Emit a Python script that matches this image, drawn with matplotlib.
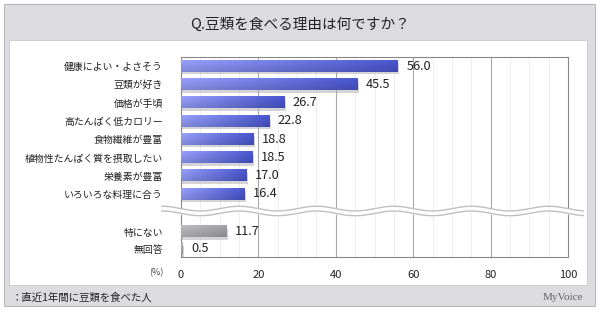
import numpy as np
import matplotlib
matplotlib.use("Agg")
import matplotlib.pyplot as plt
from matplotlib.patches import Rectangle

plt.rcParams['font.family'] = ['Noto Sans CJK JP', 'DejaVu Sans']

title = "Q.豆類を食べる理由は何ですか？"
categories = ["健康によい・よさそう", "豆類が好き", "価格が手頃", "高たんぱく低カロリー",
              "食物繊維が豊富", "植物性たんぱく質を摂取したい", "栄養素が豊富", "いろいろな料理に合う"]
values = [56.0, 45.5, 26.7, 22.8, 18.8, 18.5, 17.0, 16.4]
other_categories = ["特にない", "無回答"]
other_values = [11.7, 0.5]
xticks = [0, 20, 40, 60, 80, 100]
footnote = "：直近1年間に豆類を食べた人"
brand = "MyVoice"

W, H = 600, 312
fig = plt.figure(figsize=(W / 100, H / 100), dpi=100)
fig.patch.set_facecolor('white')

def fx(px):
    return px / W

def fy(py):
    return 1 - py / H

# outer gray panel
fig.patches.append(Rectangle((fx(4), fy(306)), fx(591), (306 - 4) / H, transform=fig.transFigure,
                             facecolor='#dcdbe0', edgecolor='#b8b8b8', lw=0.8, zorder=-20))
# inner white panel
fig.patches.append(Rectangle((fx(9), fy(285)), fx(578), (285 - 40) / H, transform=fig.transFigure,
                             facecolor='white', edgecolor='#c8c8c8', lw=0.6, zorder=-10))

fig.text(0.5, fy(25), title, ha='center', va='center', fontsize=10.5, color='#222222')
fig.text(fx(12), fy(298), footnote, ha='left', va='center', fontsize=7.5, color='#222222')
fig.text(fx(583), fy(297), brand, ha='right', va='center', fontsize=8, color='#666666',
         family=['Liberation Serif'])

ax = fig.add_axes([fx(181), fy(257), fx(568 - 181), (257 - 57) / H])
ax.set_zorder(5)
ax.patch.set_alpha(0)

pos = list(range(len(values)))
other_pos = [9.07, 10.0]
bh = 0.62

# grid
for x in np.arange(5, 100, 5):
    if x % 20 == 0:
        ax.axvline(x, color='#a8a8a8', lw=0.8, zorder=0)
    else:
        ax.axvline(x, color='#ededed', lw=0.7, zorder=0)

def draw_bar(y, v, c_light, c_dark):
    # shadow
    ax.add_patch(Rectangle((0, y - bh / 2 + 0.14), v + 0.4, bh, facecolor='#b0b0b8', alpha=0.55,
                           edgecolor='none', zorder=2))
    cl = np.array(matplotlib.colors.to_rgb(c_light))
    cd = np.array(matplotlib.colors.to_rgb(c_dark))
    t = np.linspace(0, 1, 64)
    row = cl[None, :] * (1 - t[:, None]) + cd[None, :] * t[:, None]
    vert = np.linspace(1.06, 0.9, 12)
    img = np.clip(row[None, :, :] * vert[:, None, None], 0, 1)
    ax.imshow(img, extent=(0, v, y + bh / 2, y - bh / 2), aspect='auto', zorder=3,
              interpolation='bilinear')

for y, v in zip(pos, values):
    draw_bar(y, v, '#8e97ee', '#4652c6')
    ax.text(v + 2.2, y, f"{v:.1f}", ha='left', va='center', fontsize=9.2, color='#222222')
for y, v in zip(other_pos, other_values):
    draw_bar(y, v, '#b4b4b8', '#9a9a9e')
    ax.text(v + 2.2, y, f"{v:.1f}", ha='left', va='center', fontsize=9.2, color='#222222')

ax.set_xlim(0, 100)
ax.set_ylim(10.45, -0.5)

ax.set_yticks(pos + other_pos)
ax.set_yticklabels(categories + other_categories, fontsize=7.1, color='#222222')
ax.set_xticks(xticks)
ax.set_xticklabels([str(x) for x in xticks], fontsize=8, color='#222222')
ax.tick_params(length=0, pad=13, axis='y')
ax.tick_params(length=0, pad=9, axis='x')
for s in ax.spines.values():
    s.set_color('#888888')
    s.set_linewidth(0.8)

ax.text(-4.5, 10.45 + 0.85, "(%)", ha='right', va='center', fontsize=6.5, color='#444444',
        clip_on=False)

# wavy break
xs = np.linspace(-5, 104, 400)
yc = 7.93
amp = 0.13
w1 = yc - 0.13 + amp * np.sin(2 * np.pi * xs / 20)
w2 = yc + 0.13 + amp * np.sin(2 * np.pi * xs / 20)
ax.fill_between(xs, w1, w2, color='white', zorder=5, clip_on=False)
ax.plot(xs, w1, color='#c0c0c0', lw=1.0, zorder=6, clip_on=False)
ax.plot(xs, w2, color='#c0c0c0', lw=1.0, zorder=6, clip_on=False)

fig.savefig("out.png", dpi=100)
